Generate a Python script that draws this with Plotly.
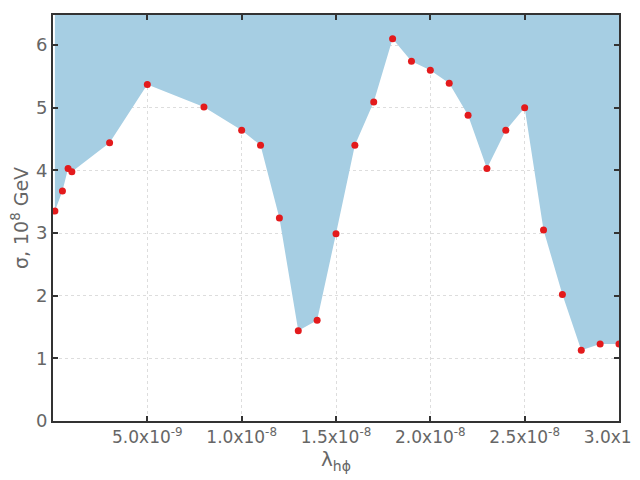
import plotly.graph_objects as go

# lambda_h_phi values and sigma (10^8 GeV)
lam = [1e-10, 5e-10, 8e-10, 1e-9, 3e-9, 5e-9, 8e-9, 1.0e-8, 1.1e-8, 1.2e-8,
       1.3e-8, 1.4e-8, 1.5e-8, 1.6e-8, 1.7e-8, 1.8e-8, 1.9e-8, 2.0e-8, 2.1e-8,
       2.2e-8, 2.3e-8, 2.4e-8, 2.5e-8, 2.6e-8, 2.7e-8, 2.8e-8, 2.9e-8, 3.0e-8]
sigma = [3.35, 3.67, 4.03, 3.98, 4.44, 5.37, 5.01, 4.64, 4.40, 3.24,
         1.44, 1.61, 2.99, 4.40, 5.09, 6.10, 5.74, 5.60, 5.39,
         4.88, 4.03, 4.64, 5.00, 3.05, 2.02, 1.13, 1.23, 1.23]

x_tickvals = [5e-9, 1e-8, 1.5e-8, 2e-8, 2.5e-8, 3e-8]
x_ticktext = ["5.0x10<sup>-9</sup>", "1.0x10<sup>-8</sup>", "1.5x10<sup>-8</sup>",
              "2.0x10<sup>-8</sup>", "2.5x10<sup>-8</sup>", "3.0x10<sup>-8</sup>"]
y_tickvals = [0, 1, 2, 3, 4, 5, 6]
y_top = 6.48

fig = go.Figure()

# upper boundary of the shaded region
fig.add_trace(go.Scatter(
    x=lam, y=[y_top] * len(lam), mode="lines",
    line=dict(width=0), hoverinfo="skip", showlegend=False
))

fig.add_trace(go.Scatter(
    x=lam, y=sigma, mode="lines+markers",
    fill="tonexty", fillcolor="#a6cee3",
    line=dict(width=0, color="#a6cee3"),
    marker=dict(color="#e31a1c", size=7),
    showlegend=False
))

axis_common = dict(
    showline=True, linecolor="#333333", linewidth=2, mirror="allticks",
    ticks="inside", ticklen=5, tickcolor="#333333", tickwidth=2,
    showgrid=True, gridcolor="#dddddd", griddash="dot", gridwidth=1,
    zeroline=False, automargin=False, layer="above traces",
)

fig.update_xaxes(
    range=[0, 3.0e-8], tickvals=x_tickvals, ticktext=x_ticktext,
    tickfont=dict(size=17, color="#666666"), ticklabeloverflow="allow",
    title=dict(text="λ<sub>hϕ</sub>", font=dict(size=20, color="#666666"), standoff=0),
    **axis_common
)
fig.update_yaxes(
    range=[0, y_top], tickvals=y_tickvals,
    tickfont=dict(size=18, color="#666666"),
    title=dict(text="σ, 10<sup>8</sup> GeV", font=dict(size=19, color="#666666"), standoff=6),
    **axis_common
)

# page body has an 8px margin, so the figure is sized to the remaining window
fig.update_layout(
    width=632, height=472,
    margin=dict(l=45, r=21, t=7, b=59),
    plot_bgcolor="white", paper_bgcolor="white",
    font=dict(family="DejaVu Sans", color="#666666"),
)

fig.write_html("out.html")
